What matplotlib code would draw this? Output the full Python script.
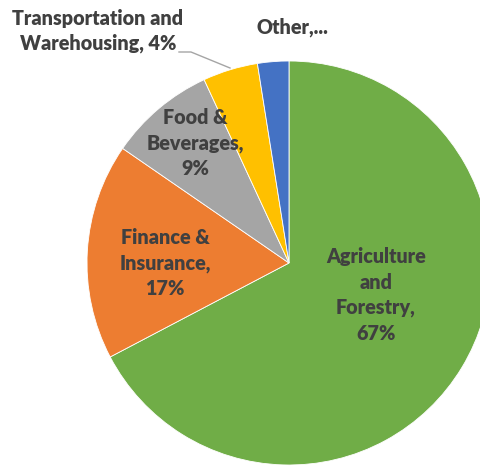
import matplotlib.pyplot as plt

sectors = ['Agriculture and Forestry', 'Finance & Insurance', 'Food & Beverages',
           'Transportation and Warehousing', 'Other']
shares = [67.3, 17.3, 8.5, 4.4, 2.5]
labels = ['Agriculture\nand\nForestry,\n67%', 'Finance &\nInsurance,\n17%',
          'Food &\nBeverages,\n9%', 'Transportation and\nWarehousing, 4%', 'Other,...']
colors = ['#70AD47', '#ED7D31', '#A5A5A5', '#FFC000', '#4472C4']

fig = plt.figure(figsize=(4.81, 4.66), dpi=100)
ax = fig.add_axes([0, 0, 1, 1])

ax.pie(shares, colors=colors, startangle=90, counterclock=False,
       center=(289, 203), radius=202, frame=True,
       wedgeprops=dict(edgecolor='white', linewidth=0.6))
ax.set_xlim(0, 481)
ax.set_ylim(0, 466)
ax.set_aspect('auto')
ax.axis('off')

txt = dict(fontsize=14.2, fontweight='heavy', color='#404040', family='Lato',
           ha='center', va='center', linespacing=1.4)
pos = [(376, 171), (165, 203), (195, 323), (98, 435), (292, 439)]
for lab, (x, y) in zip(labels, pos):
    ax.text(x, y, lab, **txt)

ax.plot([179, 191, 230], [466 - 52, 466 - 52, 466 - 68], color='#A5A5A5', lw=1)

fig.savefig('out.png', dpi=100)
